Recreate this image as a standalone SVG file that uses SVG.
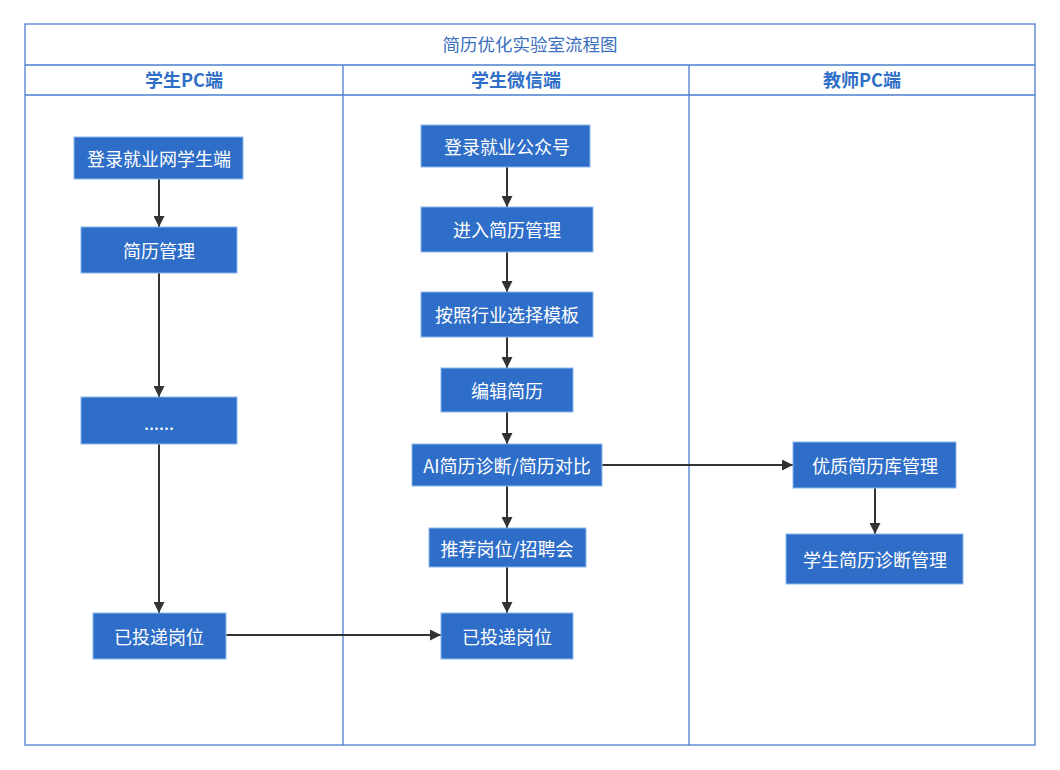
<svg xmlns="http://www.w3.org/2000/svg" width="1060" height="770" viewBox="0 0 1060 770">
<style>
.lane{fill:none;stroke:#4a7fd0;stroke-width:1.3}
.hdr{font-family:"Noto Sans CJK SC","Microsoft YaHei",sans-serif;font-size:18px;font-weight:bold;fill:#2f6fc8;text-anchor:middle}
.ttl{font-family:"Noto Sans CJK SC",sans-serif;font-size:17.5px;fill:#3a6fc0;text-anchor:middle}
.box{fill:#2f6ec8;stroke:#8ab6ec;stroke-width:1}
.lbl{font-family:"Noto Sans CJK SC",sans-serif;font-size:18px;fill:#fff;text-anchor:middle;dominant-baseline:central}
.cn{fill:none;stroke:#333;stroke-width:2}
</style>
<defs>
<marker id="ah" viewBox="0 0 10 10" refX="10" refY="5" markerWidth="5.5" markerHeight="5.5" orient="auto" markerUnits="strokeWidth">
<path d="M0,0 L10,5 L0,10 z" fill="#333"/>
</marker>
</defs>
<rect width="1060" height="770" fill="#fff"/>
<g id="frame">
<rect class="lane" x="25" y="24" width="1010" height="721"/>
<line class="lane" x1="25" y1="65" x2="1035" y2="65"/>
<line class="lane" x1="25" y1="95" x2="1035" y2="95" stroke="#8fb3e6"/>
<line class="lane" x1="343" y1="65" x2="343" y2="745"/>
<line class="lane" x1="689" y1="65" x2="689" y2="745"/>
<text class="ttl" x="530" y="51">简历优化实验室流程图</text>
<text class="hdr" x="184" y="87">学生PC端</text>
<text class="hdr" x="516" y="87">学生微信端</text>
<text class="hdr" x="862" y="87">教师PC端</text>
</g>
<g id="connectors">
<line class="cn" x1="159" y1="179" x2="159" y2="227" marker-end="url(#ah)"/>
<line class="cn" x1="159" y1="273" x2="159" y2="397" marker-end="url(#ah)"/>
<line class="cn" x1="159" y1="444" x2="159" y2="613" marker-end="url(#ah)"/>
<line class="cn" x1="226" y1="635" x2="441" y2="635" marker-end="url(#ah)"/>
<line class="cn" x1="507" y1="167" x2="507" y2="207" marker-end="url(#ah)"/>
<line class="cn" x1="507" y1="252" x2="507" y2="292" marker-end="url(#ah)"/>
<line class="cn" x1="507" y1="337" x2="507" y2="368" marker-end="url(#ah)"/>
<line class="cn" x1="507" y1="412" x2="507" y2="444" marker-end="url(#ah)"/>
<line class="cn" x1="507" y1="486" x2="507" y2="528" marker-end="url(#ah)"/>
<line class="cn" x1="507" y1="567" x2="507" y2="613" marker-end="url(#ah)"/>
<line class="cn" x1="602" y1="465" x2="793" y2="465" marker-end="url(#ah)"/>
<line class="cn" x1="875" y1="488" x2="875" y2="534" marker-end="url(#ah)"/>
</g>
<g id="n1"><rect class="box" x="74" y="137" width="169" height="42"/><text class="lbl" x="159" y="158">登录就业网学生端</text></g>
<g id="n2"><rect class="box" x="81" y="227" width="156" height="46"/><text class="lbl" x="159" y="250">简历管理</text></g>
<g id="n3"><rect class="box" x="81" y="397" width="156" height="47"/><text class="lbl" x="159" y="422">......</text></g>
<g id="n4"><rect class="box" x="93" y="613" width="133" height="46"/><text class="lbl" x="159" y="636">已投递岗位</text></g>
<g id="m1"><rect class="box" x="421" y="125" width="169" height="42"/><text class="lbl" x="507" y="146">登录就业公众号</text></g>
<g id="m2"><rect class="box" x="421" y="207" width="172" height="45"/><text class="lbl" x="507" y="229">进入简历管理</text></g>
<g id="m3"><rect class="box" x="421" y="292" width="172" height="45"/><text class="lbl" x="507" y="314">按照行业选择模板</text></g>
<g id="m4"><rect class="box" x="441" y="368" width="132" height="44"/><text class="lbl" x="507" y="390">编辑简历</text></g>
<g id="m5"><rect class="box" x="412" y="444" width="190" height="42"/><text class="lbl" x="507" y="465">AI简历诊断/简历对比</text></g>
<g id="m6"><rect class="box" x="429" y="528" width="157" height="39"/><text class="lbl" x="507" y="548">推荐岗位/招聘会</text></g>
<g id="m7"><rect class="box" x="441" y="613" width="132" height="46"/><text class="lbl" x="507" y="636">已投递岗位</text></g>
<g id="t1"><rect class="box" x="793" y="442" width="163" height="46"/><text class="lbl" x="875" y="465">优质简历库管理</text></g>
<g id="t2"><rect class="box" x="786" y="534" width="177" height="50"/><text class="lbl" x="875" y="559">学生简历诊断管理</text></g>
</svg>
